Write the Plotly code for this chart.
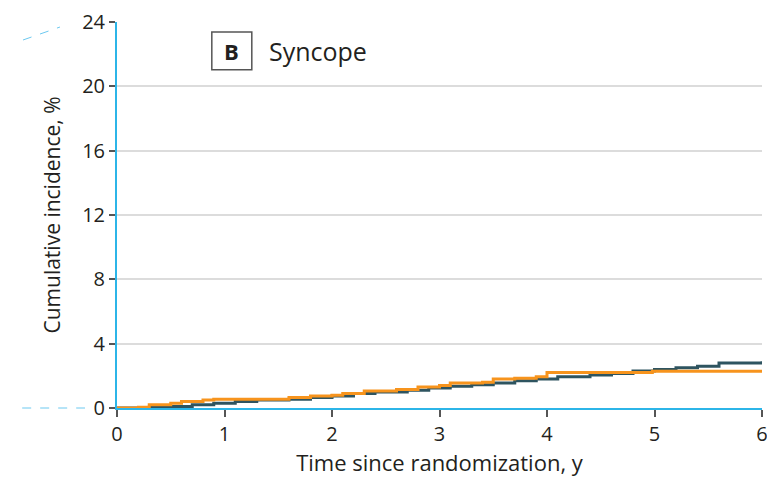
import plotly.graph_objects as go

# Data
orange_t = [0, 0.2, 0.3, 0.5, 0.6, 0.8, 0.9, 1.5, 1.6, 1.8, 2.0, 2.1, 2.3, 2.6, 2.8, 3.0, 3.1, 3.4, 3.5, 3.7, 3.9, 4.0, 4.5, 4.98, 6.0]
orange_v = [0, 0.05, 0.2, 0.3, 0.4, 0.5, 0.55, 0.55, 0.65, 0.75, 0.8, 0.9, 1.05, 1.15, 1.3, 1.4, 1.55, 1.6, 1.8, 1.85, 1.95, 2.2, 2.2, 2.28, 2.28]
teal_t = [0, 0.3, 0.5, 0.7, 0.9, 1.1, 1.3, 1.6, 1.8, 2.0, 2.2, 2.4, 2.7, 2.9, 3.1, 3.3, 3.5, 3.7, 3.9, 4.1, 4.4, 4.6, 4.8, 5.0, 5.2, 5.4, 5.6, 5.95, 6.0]
teal_v = [0, 0.05, 0.1, 0.2, 0.3, 0.4, 0.5, 0.55, 0.65, 0.75, 0.9, 1.0, 1.1, 1.25, 1.35, 1.45, 1.55, 1.7, 1.8, 1.95, 2.05, 2.15, 2.3, 2.4, 2.5, 2.6, 2.8, 2.8, 2.9]

x_ticks = [0, 1, 2, 3, 4, 5, 6]
y_ticks = [0, 4, 8, 12, 16, 20, 24]

FONT = "Open Sans, Roboto, Liberation Sans, sans-serif"
CYAN = "#2cb5e8"
TEXT = "#231f20"

fig = go.Figure()
fig.add_trace(go.Scatter(x=teal_t, y=teal_v, mode="lines", line=dict(color="#2e5460", width=3, shape="hv"), showlegend=False))
fig.add_trace(go.Scatter(x=orange_t, y=orange_v, mode="lines", line=dict(color="#f7941d", width=3, shape="hv"), showlegend=False))

fig.update_layout(
    width=767, height=478,
    margin=dict(l=117, r=5, t=22, b=70),
    paper_bgcolor="white", plot_bgcolor="white",
    font=dict(family=FONT, color=TEXT, size=20),
    xaxis=dict(range=[0, 6], tickvals=x_ticks, showgrid=False, zeroline=False, automargin=False,
               showline=True, linecolor=CYAN, linewidth=2, ticklabeloverflow="allow",
               ticks="outside", ticklen=7, tickwidth=1.5, tickcolor="#555",
               title=dict(text="Time since randomization, y", font=dict(size=22), standoff=6),
               tickfont=dict(size=20)),
    yaxis=dict(range=[0, 24], tickvals=y_ticks, showgrid=True, gridcolor="#dcdcdc", gridwidth=1.5,
               zeroline=False, showline=True, linecolor=CYAN, linewidth=2, automargin=False,
               ticklabeloverflow="allow",
               ticks="outside", ticklen=6, tickwidth=1.5, tickcolor="#555",
               title=dict(text="Cumulative incidence, %", font=dict(size=21), standoff=16),
               tickfont=dict(size=20)),
    shapes=[
        dict(type="rect", xref="paper", yref="paper", x0=0.121, x1=0.405, y0=0.84, y1=1.015,
             fillcolor="white", line=dict(width=0), layer="between"),
        dict(type="rect", xref="paper", yref="paper", x0=0.147, x1=0.209, y0=0.876, y1=0.974,
             fillcolor="white", line=dict(color="#555", width=1.5), layer="above"),
        dict(type="line", xref="paper", yref="paper", x0=-0.1457, y0=0.9534, x1=-0.0884, y1=0.987,
             line=dict(color="#6cc9f0", width=1, dash="dash")),
        dict(type="line", xref="paper", yref="paper", x0=-0.147, y0=0, x1=-0.0496, y1=0,
             line=dict(color="#6cc9f0", width=1, dash="dash")),
    ],
    annotations=[
        dict(text="<b>B</b>", xref="paper", yref="paper", x=0.178, y=0.925, showarrow=False,
             font=dict(size=22, color=TEXT), xanchor="center", yanchor="middle"),
        dict(text="Syncope", xref="paper", yref="paper", x=0.233, y=0.925, showarrow=False,
             font=dict(size=25, color=TEXT), xanchor="left", yanchor="middle"),
    ],
)

fig.write_html(
    "out.html",
    config={"displayModeBar": False},
    post_script="document.body.style.margin='0';document.documentElement.style.overflow='hidden';document.body.style.overflow='hidden';",
)
